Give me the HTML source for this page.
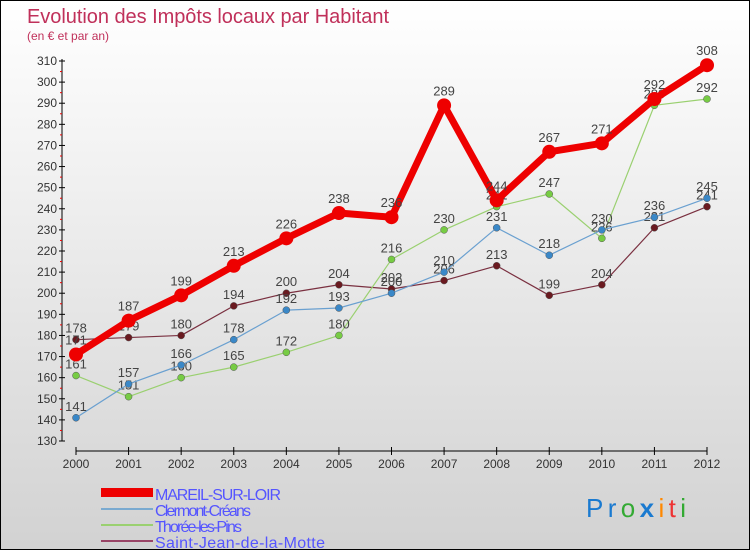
<!DOCTYPE html>
<html><head><meta charset="utf-8"><style>
body{margin:0}
#c{width:748px;height:548px;border:1px solid #000;background:linear-gradient(#fff,#d2d2d2);position:relative;font-family:"Liberation Sans",sans-serif;overflow:hidden}
</style></head><body>
<div id="c">
<svg id="s" width="748" height="548" style="position:absolute;left:0;top:0">
<text x="26" y="22" font-size="20" fill="#c0305a" textLength="362">Evolution des Impôts locaux par Habitant</text>
<text x="26" y="39" font-size="12" fill="#c0305a">(en € et par an)</text>
<g id="axes"></g><g id="series"></g>
<g>
<rect x="100" y="487" width="52" height="9" fill="#e00"/>
<text x="154" y="499" font-size="16" fill="#55f" textLength="126">MAREIL-SUR-LOIR</text>
<rect x="100" y="507" width="52" height="2" fill="#7aaad0"/>
<text x="154" y="515" font-size="16" fill="#55f" textLength="96">Clermont-Créans</text>
<rect x="100" y="523" width="52" height="2" fill="#9ad070"/>
<text x="154" y="531" font-size="16" fill="#55f" textLength="87">Thorée-les-Pins</text>
<rect x="100" y="539" width="52" height="2" fill="#946"/>
<text x="154" y="547" font-size="16" fill="#55f" textLength="170">Saint-Jean-de-la-Motte</text>
</g>
<text x="585" y="516" font-size="26" textLength="100"><tspan fill="#1a7ad0">Pr</tspan><tspan fill="#3a3">o</tspan><tspan fill="#1a7ad0" font-weight="bold">x</tspan><tspan fill="#f80">i</tspan><tspan fill="#e33">t</tspan><tspan fill="#3a3">i</tspan></text>
</svg>
</div>
<script>
const years=[2000,2001,2002,2003,2004,2005,2006,2007,2008,2009,2010,2011,2012];
const mareil=[171,187,199,213,226,238,236,289,244,267,271,292,308];
const clermont=[141,157,166,178,192,193,200,210,231,218,230,236,245];
const thoree=[161,151,160,165,172,180,216,230,241,247,226,289,292];
const saintJean=[178,179,180,194,200,204,202,206,213,199,204,231,241];
const yTicks=[130,140,150,160,170,180,190,200,210,220,230,240,250,260,270,280,290,300,310];
const NS="http://www.w3.org/2000/svg";
const xS=i=>75+i*(706-75)/12;
const yS=v=>440-(v-130)*(380/180);
function mk(t,a,p){const e=document.createElementNS(NS,t);for(const k in a)e.setAttribute(k,a[k]);p.appendChild(e);return e;}
const ax=document.getElementById('axes');
let yl=mk('line',{x1:61,y1:58,x2:61,y2:440,stroke:'#000'},ax);


let xl=mk('line',{x1:75,y1:450,x2:706,y2:450,stroke:'#000'},ax);


yTicks.forEach(v=>{
  mk('line',{x1:58,x2:64,y1:yS(v),y2:yS(v),stroke:'#000'},ax);
  if(v<310)mk('line',{x1:59,x2:61,y1:yS(v+5),y2:yS(v+5),stroke:'#e00'},ax);
  const t=mk('text',{x:56,y:yS(v)+4,'font-size':12,'text-anchor':'end',fill:'#333'},ax);
  t.textContent=v;
  
  
});
years.forEach((y,i)=>{
  mk('line',{x1:xS(i),x2:xS(i),y1:446,y2:454,stroke:'#000'},ax);
  const t=mk('text',{x:xS(i),y:467,'font-size':12,'text-anchor':'middle',fill:'#333'},ax);
  t.textContent=y;
  
  
});
const sg=document.getElementById('series');
function draw(vals,col,dot,w,r,name){
  const g=mk('g',{},sg);
  
  
  const p=mk('polyline',{points:vals.map((v,i)=>xS(i)+','+yS(v)).join(' '),fill:'none',stroke:col,'stroke-width':w,'stroke-linejoin':'round'},g);
  
  
  vals.forEach((v,i)=>{
    const c=mk('circle',{cx:xS(i),cy:yS(v),r:r,fill:dot,stroke:r>5?'none':'#555','stroke-width':0.5},g);
    
    
    const t=mk('text',{x:xS(i),y:yS(v)-(r>5?10:7),'font-size':13,'text-anchor':'middle',fill:'#444'},g);
    t.textContent=v;
    
    
  });
}
draw(saintJean,'#7a3040','#6a1a20',1.2,3.5,'saint-jean');
draw(thoree,'#9ad070','#7c4',1.2,3.5,'thoree');
draw(clermont,'#6aa0d0','#3a88c8',1.2,3.5,'clermont');
draw(mareil,'#e00','#e00',7,7,'mareil');
</script>
</body></html>
